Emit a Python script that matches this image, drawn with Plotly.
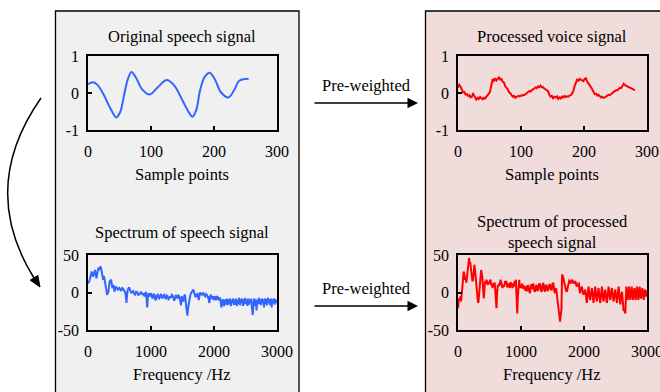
import plotly.graph_objects as go

W, H = 660, 392
FONT = "Liberation Serif"

# ---------------- data ----------------
orig_x = [0, 8, 15, 25, 35, 45, 51, 57, 63, 69, 76, 86, 98, 110, 125, 137, 150, 160, 166, 172,
          178, 185, 193, 201, 211, 223, 232, 240, 250, 255]
orig_y = [0.24, 0.29, 0.22, -0.05, -0.40, -0.66, -0.52, -0.08, 0.36, 0.57, 0.42, 0.10, -0.04, 0.14,
          0.35, 0.20, -0.20, -0.52, -0.64, -0.45, 0.08, 0.43, 0.55, 0.38, 0.02, -0.12, 0.08, 0.33,
          0.38, 0.38]

proc_x = [0, 2, 4, 6, 8, 10, 12, 14, 16, 18, 20, 22, 24, 25, 27, 29, 31, 33, 35, 37, 39, 41, 43,
          45, 47, 49, 51, 53, 55, 57, 59, 61, 63, 65, 67, 69, 71, 73, 75, 77, 79, 81, 83, 85, 87,
          89, 91, 93, 95, 97, 99, 101, 103, 105, 107, 109, 111, 113, 115, 117, 119, 121, 123, 125,
          127, 129, 131, 133, 135, 137, 139, 141, 143, 145, 147, 149, 151, 153, 155, 157, 159, 161,
          163, 165, 167, 169, 171, 173, 175, 177, 179, 181, 183, 185, 187, 189, 191, 193, 195, 197,
          199, 201, 203, 205, 207, 209, 211, 213, 215, 217, 219, 221, 223, 225, 227, 229, 231, 233,
          235, 237, 239, 241, 243, 245, 247, 249, 251, 253, 255, 257, 259, 261, 263, 265, 267, 269,
          271, 273, 275, 277, 279, 281]
proc_y = [0.15, 0.22, 0.17, 0.08, 0.02, 0.03, -0.04, -0.03, -0.08, -0.06, -0.12, -0.10, 0.00, -0.05,
          -0.14, -0.18, -0.13, -0.16, -0.11, -0.14, -0.17, -0.13, -0.15, -0.10, -0.07, -0.02, 0.05,
          0.25, 0.38, 0.33, 0.40, 0.34, 0.38, 0.42, 0.36, 0.38, 0.30, 0.28, 0.18, 0.14, 0.10, 0.02,
          0.00, -0.06, -0.10, -0.08, -0.13, -0.10, -0.08, -0.09, -0.07, -0.08, -0.05, -0.06, -0.03,
          -0.01, 0.02, 0.05, 0.04, 0.08, 0.10, 0.12, 0.15, 0.13, 0.18, 0.16, 0.20, 0.15, 0.16, 0.12,
          0.10, 0.06, 0.05, -0.05, -0.10, -0.08, -0.14, -0.10, -0.12, -0.09, -0.16, -0.12, -0.15,
          -0.10, -0.12, -0.08, -0.11, -0.09, -0.10, -0.07, -0.06, -0.02, 0.05, 0.18, 0.30, 0.36,
          0.33, 0.38, 0.36, 0.35, 0.32, 0.38, 0.40, 0.31, 0.27, 0.22, 0.16, 0.10, 0.03, -0.03, -0.02,
          -0.07, -0.05, -0.09, -0.12, -0.10, -0.13, -0.12, -0.10, -0.08, -0.05, -0.06, -0.02, 0.00,
          0.03, 0.05, 0.08, 0.07, 0.12, 0.14, 0.13, 0.20, 0.25, 0.21, 0.19, 0.18, 0.16, 0.14, 0.12,
          0.11, 0.09, 0.08]

orig_spec_f = [0, 5, 27, 45, 59, 80, 100, 112, 133, 150, 165, 180, 197, 218, 239, 250, 260, 282, 303,
               324, 345, 367, 388, 409, 420, 441, 460, 473, 494, 510, 526, 540, 558, 575, 590, 600,
               611, 622, 632, 653, 670, 685, 700, 717, 733, 749, 765, 786, 800, 813, 830, 844, 860,
               876, 890, 898, 910, 919, 930, 940, 950, 961, 975, 983, 995, 1004, 1015, 1025, 1040,
               1052, 1065, 1078, 1090, 1105, 1118, 1131, 1145, 1158, 1170, 1184, 1197, 1211, 1224,
               1237, 1250, 1264, 1278, 1291, 1305, 1317, 1330, 1344, 1357, 1370, 1384, 1397, 1410,
               1423, 1437, 1450, 1463, 1476, 1488, 1503, 1514, 1530, 1541, 1557, 1578, 1590, 1599,
               1610, 1620, 1635, 1647, 1660, 1673, 1684, 1695, 1705, 1716, 1726, 1737, 1748, 1758,
               1769, 1780, 1793, 1806, 1820, 1833, 1846, 1859, 1872, 1886, 1899, 1912, 1920, 1928,
               1940, 1950, 1960, 1971, 1982, 1992, 2003, 2013, 2024, 2034, 2045, 2056, 2066, 2077,
               2088, 2098, 2108, 2119, 2130, 2141, 2152, 2162, 2172, 2183, 2195, 2207, 2219, 2231,
               2243, 2255, 2267, 2279, 2291, 2303, 2315, 2327, 2339, 2351, 2363, 2375, 2387, 2399,
               2411, 2423, 2435, 2447, 2459, 2471, 2483, 2495, 2507, 2519, 2531, 2543, 2555, 2567,
               2579, 2591, 2603, 2615, 2627, 2639, 2651, 2663, 2675, 2687, 2699, 2711, 2723, 2735,
               2747, 2759, 2771, 2783, 2795, 2807, 2819, 2831, 2843, 2855, 2867, 2879, 2891, 2903,
               2915, 2927, 2939, 2951, 2963, 2975, 2987, 2998]
orig_spec_v = [14, 12, 17, 22, 28, 21, 27, 30, 19, 26, 33, 30, 35, 28, 17, 22, 19, 8, -3, 1, 15, 17,
               6, 10, 1, 8, 5, 4, 6, 3, 2, 6, 5, 2, 1, -5, -14, -2, 4, 7, 3, -1, 1, 2, -2, -3, 1, 0,
               -4, -2, 0, 1, -3, -1, -4, -5, -1, 1, -8, -20, -6, -1, -4, -5, -1, -2, -6, -8, -2, -3,
               -9, -10, -4, -3, -7, -8, -4, -2, -6, -8, -4, -3, -7, -8, -4, -5, -9, -8, -5, -7, -3,
               -4, -8, -11, -6, -3, -6, -8, -4, -5, -10, -17, -5, -10, -12, -4, -3, -17, -31, -20,
               -14, -8, -5, -1, 1, 3, 4, 0, -3, -6, -5, -2, -1, -6, -10, -4, 0, -2, -3, -1, -1, -4,
               -5, -2, -3, -6, -5, -12, -14, -5, -3, -6, -8, -5, -10, -7, -5, -9, -10, -6, -5, -9,
               -10, -7, -8, -14, -20, -12, -9, -15, -18, -12, -9, -16, -8, -17, -9, -15, -8, -18,
               -10, -14, -8, -17, -9, -16, -8, -18, -10, -15, -7, -17, -9, -14, -8, -18, -9, -16,
               -7, -15, -9, -18, -8, -16, -10, -14, -8, -22, -30, -14, -8, -18, -9, -24, -10, -16,
               -7, -15, -9, -17, -8, -14, -9, -20, -8, -15, -9, -17, -7, -14, -9, -17, -8, -20, -9,
               -14, -8, -16, -9, -14, -10]

proc_spec_f = [0, 5, 16, 27, 40, 48, 60, 69, 80, 90, 100, 112, 122, 133, 145, 154, 165, 175, 186,
               197, 207, 218, 229, 239, 250, 260, 271, 282, 292, 303, 314, 324, 335, 345, 356, 367,
               378, 388, 398, 409, 420, 430, 441, 452, 462, 473, 483, 494, 504, 515, 526, 536, 547,
               558, 570, 584, 598, 611, 621, 632, 643, 653, 664, 675, 690, 706, 717, 727, 738, 748,
               759, 770, 780, 791, 802, 813, 823, 834, 844, 855, 866, 876, 886, 898, 910, 919, 930,
               940, 950, 961, 972, 983, 995, 1009, 1020, 1030, 1046, 1060, 1078, 1090, 1101, 1115,
               1128, 1140, 1152, 1165, 1180, 1195, 1208, 1221, 1235, 1248, 1261, 1274, 1287, 1301,
               1314, 1327, 1340, 1354, 1367, 1381, 1394, 1407, 1420, 1434, 1450, 1461, 1475, 1488,
               1500, 1514, 1528, 1541, 1557, 1568, 1578, 1590, 1599, 1610, 1620, 1631, 1642, 1647,
               1652, 1662, 1673, 1686, 1700, 1713, 1727, 1740, 1753, 1766, 1780, 1795, 1811, 1827,
               1843, 1855, 1865, 1876, 1886, 1900, 1918, 1928, 1939, 1952, 1965, 1978, 1992, 2005,
               2019, 2032, 2045, 2058, 2072, 2085, 2098, 2112, 2125, 2138, 2151, 2164, 2178, 2191,
               2204, 2217, 2231, 2244, 2258, 2271, 2284, 2297, 2311, 2324, 2337, 2350, 2364, 2377,
               2390, 2403, 2417, 2430, 2443, 2456, 2470, 2483, 2496, 2509, 2523, 2536, 2550, 2563,
               2576, 2590, 2603, 2616, 2629, 2642, 2656, 2664, 2672, 2682, 2693, 2703, 2714, 2724,
               2735, 2746, 2757, 2768, 2778, 2789, 2799, 2810, 2820, 2831, 2842, 2852, 2863, 2874,
               2884, 2895, 2905, 2916, 2927, 2938, 2948, 2958, 2969, 2980, 2990, 3000]
proc_spec_v = [-21, -18, -8, -10, -5, -12, 5, 15, 17, 28, 25, 17, 20, 13, 25, 35, 42, 46, 40, 39, 30,
               19, 15, 17, 28, 37, 30, 19, 5, -8, -11, -14, -5, 10, 20, 30, 25, 19, 5, -8, 5, 15, 12,
               17, 14, 10, 14, 12, 15, 17, 10, 12, 6, 8, 12, 12, -5, -21, 0, 10, 8, 12, 10, 17, 12, 6,
               10, 8, 10, 15, 14, 15, 8, 8, 12, 10, 6, 14, 12, 8, 6, 12, 8, 15, 12, 17, -5, -28, -5,
               12, 17, 6, 10, 6, 12, 5, 9, 4, 3, 9, 2, 10, 5, -1, 4, 11, 5, 12, 3, 1, 8, 10, 2, 4, 11,
               12, 3, 1, 9, 13, 4, 1, 10, 9, 2, 4, 11, 10, 4, 4, 12, 12, 2, -1, 6, -3, -10, -20, -25,
               -35, -39, -30, -23, 0, 24, 22, 19, 12, 6, 3, 1, 6, 12, 16, 15, 12, 17, 14, 12, 14, 15,
               10, 8, 11, 12, 4, -1, 5, 8, 2, -3, 1, 4, -5, -14, -2, 8, -3, -10, -1, 6, -4, -14, -2,
               8, -4, -12, -3, 6, -5, -14, -3, 8, -4, -12, -2, 4, -6, -14, -3, 8, -2, -10, -1, 6, -4,
               -12, -3, 4, -5, -14, -2, 8, -6, -16, -4, 1, -12, -25, -22, -28, -8, 8, -3, -10, -1, 8,
               -2, -10, -1, 8, -2, -10, -2, 6, -3, -10, -1, 8, -2, -10, -1, 8, -3, -8, -1, 6, -3, -10,
               -2, 4, -4, -5, 3]

time_ticks = [0, 100, 200, 300]
time_tick_labels = ["0", "100", "200", "300"]
amp_ticks = [-1, 0, 1]
amp_tick_labels = ["-1", "0", "1"]
freq_ticks = [0, 1000, 2000, 3000]
freq_tick_labels = ["0", "1000", "2000", "3000"]
db_ticks = [-50, 0, 50]
db_tick_labels = ["-50", "0", "50"]

BLUE = "#3366FF"
RED = "#FF0000"

# ---------------- helpers ----------------
def px(x):
    return x / W

def py(y):
    return 1 - y / H

fig = go.Figure()

fig.add_trace(go.Scatter(x=orig_x, y=orig_y, mode="lines", line=dict(color=BLUE, width=2, shape="spline"),
                         xaxis="x", yaxis="y", showlegend=False))
fig.add_trace(go.Scatter(x=orig_spec_f, y=orig_spec_v, mode="lines", line=dict(color=BLUE, width=2),
                         xaxis="x2", yaxis="y2", showlegend=False))
fig.add_trace(go.Scatter(x=proc_x, y=proc_y, mode="lines", line=dict(color=RED, width=2),
                         xaxis="x3", yaxis="y3", showlegend=False))
fig.add_trace(go.Scatter(x=proc_spec_f, y=proc_spec_v, mode="lines", line=dict(color=RED, width=2),
                         xaxis="x4", yaxis="y4", showlegend=False))

tickfont = dict(family=FONT, size=16, color="black")

def xax(dom, rng, tv, tt, anchor):
    return dict(domain=dom, range=rng, tickvals=tv, ticktext=tt, anchor=anchor, automargin=False,
                showline=True, linecolor="black", linewidth=1.5, mirror=True,
                showgrid=False, zeroline=False, ticks="inside", ticklen=4, tickwidth=1.5,
                tickcolor="black", tickfont=tickfont, ticklabelstandoff=6, fixedrange=True,
                ticklabeloverflow="allow")

def yax(dom, rng, tv, tt, anchor):
    return dict(domain=dom, range=rng, tickvals=tv, ticktext=tt, anchor=anchor, automargin=False,
                showline=True, linecolor="black", linewidth=1.5, mirror=True,
                showgrid=False, zeroline=False, ticks="inside", ticklen=4, tickwidth=1.5,
                tickcolor="black", tickfont=tickfont, ticklabelstandoff=4, fixedrange=True)

LX = [px(88), px(277)]
RX = [px(458), px(647)]
TY = [py(130), py(56)]
BY = [py(330), py(255)]

fig.update_layout(
    width=W, height=H,
    margin=dict(l=0, r=0, t=0, b=0, pad=0, autoexpand=False),
    paper_bgcolor="white",
    plot_bgcolor="rgba(0,0,0,0)",
    font=dict(family=FONT, size=16, color="black"),
    xaxis=xax(LX, [0, 300], time_ticks, time_tick_labels, "y"),
    yaxis=yax(TY, [-1, 1], amp_ticks, amp_tick_labels, "x"),
    xaxis2=xax(LX, [0, 3000], freq_ticks, freq_tick_labels, "y2"),
    yaxis2=yax(BY, [-50, 50], db_ticks, db_tick_labels, "x2"),
    xaxis3=xax(RX, [0, 300], time_ticks, time_tick_labels, "y3"),
    yaxis3=yax(TY, [-1, 1], amp_ticks, amp_tick_labels, "x3"),
    xaxis4=xax(RX, [0, 3000], freq_ticks, freq_tick_labels, "y4"),
    yaxis4=yax(BY, [-50, 50], db_ticks, db_tick_labels, "x4"),
)

# panels
fig.add_shape(type="rect", xref="paper", yref="paper", x0=px(55.5), x1=px(299), y0=py(400), y1=py(11),
              fillcolor="#F0F0F0", line=dict(color="black", width=1.3), layer="below")
fig.add_shape(type="rect", xref="paper", yref="paper", x0=px(425.5), x1=px(670), y0=py(400), y1=py(11),
              fillcolor="#F0DCDB", line=dict(color="black", width=1.3), layer="below")

# text labels
def label(text, x, y):
    fig.add_annotation(text=text, x=px(x), y=py(y), xref="paper", yref="paper", showarrow=False,
                       xanchor="center", yanchor="middle", font=dict(family=FONT, size=16.5, color="black"))

label("Original speech signal", 182, 36)
label("Sample points", 182, 174)
label("Spectrum of speech signal", 182, 232)
label("Frequency /Hz", 182, 374)
label("Processed voice signal", 552, 36)
label("Sample points", 552, 174)
label("Spectrum of processed<br>speech signal", 552, 232)
label("Frequency /Hz", 552, 374)
label("Pre-weighted", 366, 86)
label("Pre-weighted", 366, 288)

# straight arrows
for yy in (103, 306):
    fig.add_annotation(x=px(418), y=py(yy), xref="paper", yref="paper", ax=-105, ay=0,
                       text="", showarrow=True, arrowhead=2, arrowsize=1.4, arrowwidth=1.5,
                       arrowcolor="black")

# curved arrow
def P(x, y):
    return f"{px(x)},{py(y)}"

fig.add_shape(type="path", xref="paper", yref="paper",
              path=f"M {P(41, 98)} Q {P(-22, 188)} {P(34, 278)}",
              line=dict(color="black", width=1.5))
fig.add_shape(type="path", xref="paper", yref="paper",
              path=f"M {P(40, 287)} L {P(30.2, 280.2)} L {P(37.8, 275.4)} Z",
              fillcolor="black", line=dict(color="black", width=1))

fig.write_html("out.html", config={"displayModeBar": False},
               post_script="document.body.style.margin='0';document.body.style.overflow='hidden';")
